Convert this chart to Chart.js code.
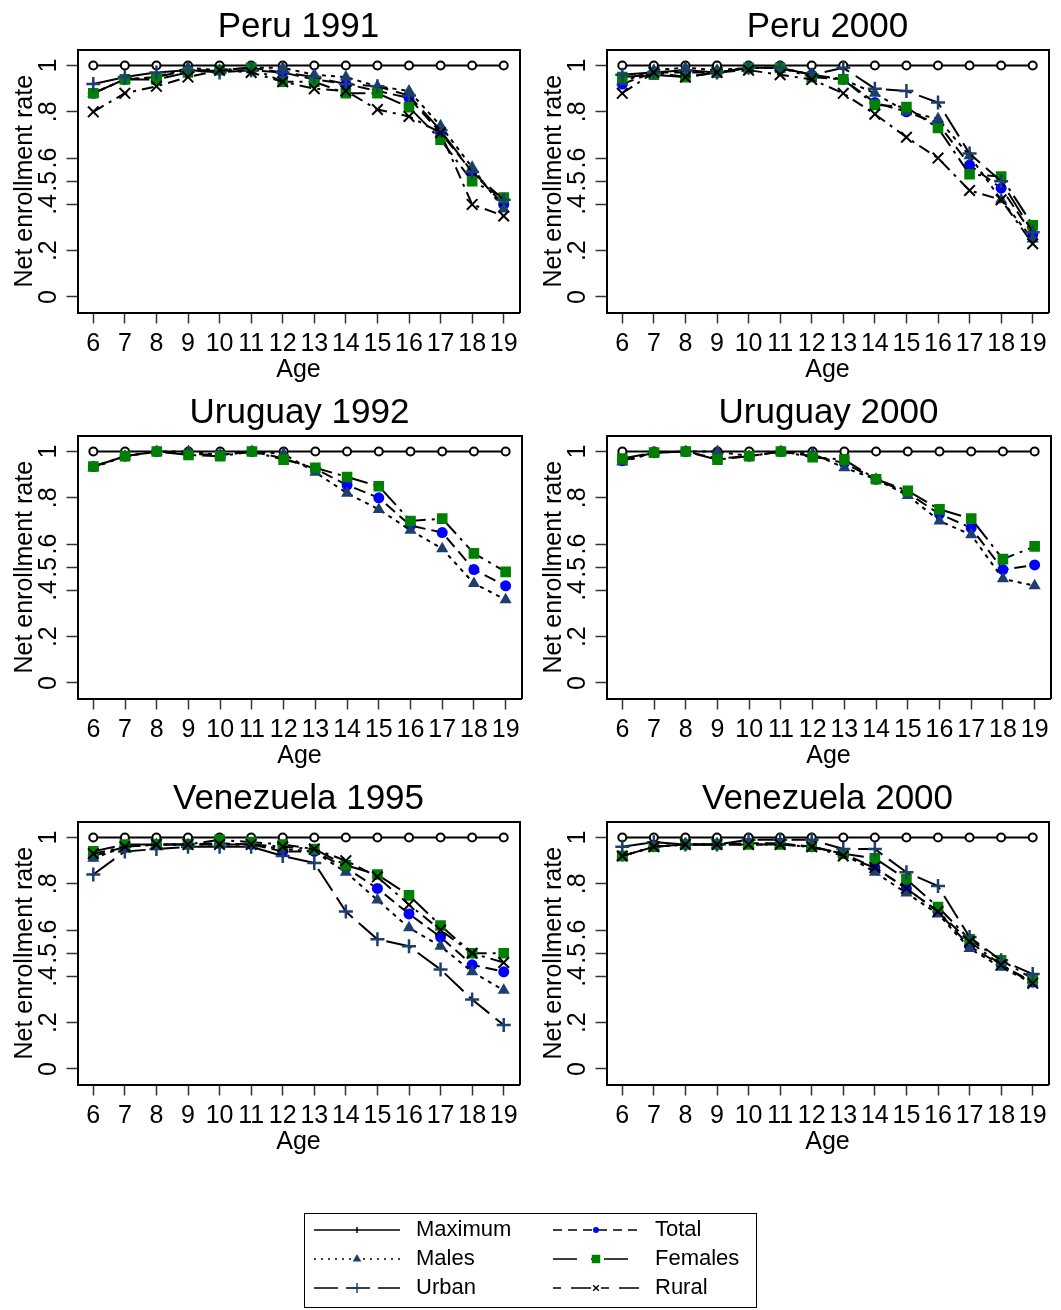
<!DOCTYPE html>
<html>
<head>
<meta charset="utf-8">
<script src="https://cdn.jsdelivr.net/npm/chart.js@4.4.1/dist/chart.umd.min.js"></script>
<style>
  body { margin: 0; background: #fff; }
  #page { position: relative; width: 1061px; height: 1310px; }
  canvas { position: absolute; }
  #legendBox { position: absolute; left: 304px; top: 1213px; width: 451px; height: 93px; border: 1.5px solid #000; }
</style>
</head>
<body>
<div id="page">
  <canvas id="p0" width="529" height="386" style="left:0;top:0"></canvas>
  <canvas id="p1" width="529" height="386" style="left:529px;top:0"></canvas>
  <canvas id="p2" width="529" height="386" style="left:0;top:386px"></canvas>
  <canvas id="p3" width="529" height="386" style="left:529px;top:386px"></canvas>
  <canvas id="p4" width="529" height="386" style="left:0;top:772px"></canvas>
  <canvas id="p5" width="529" height="386" style="left:529px;top:772px"></canvas>
  <div id="legendBox"></div>
  <canvas id="leg0" width="240" height="100" style="left:306px;top:1212px"></canvas>
  <canvas id="leg1" width="240" height="100" style="left:545px;top:1212px"></canvas>
</div>
<script>
Chart.defaults.font.family = "'Liberation Sans', Arial, sans-serif";
Chart.defaults.color = '#000';

// ---- data ----
const ages = ['6', '7', '8', '9', '10', '11', '12', '13', '14', '15', '16', '17', '18', '19'];
const yTickValues = [0, 0.2, 0.4, 0.5, 0.6, 0.8, 1];
const yTickLabels = ['0', '.2', '.4', '.5', '.6', '.8', '1'];
const maximum = [1, 1, 1, 1, 1, 1, 1, 1, 1, 1, 1, 1, 1, 1];

const peru1991Males   = [0.88, 0.94, 0.95, 0.99, 0.98, 0.99, 0.99, 0.96, 0.95, 0.91, 0.89, 0.74, 0.56, 0.38];
const peru1991Urban   = [0.92, 0.95, 0.97, 0.98, 0.97, 0.98, 0.97, 0.95, 0.92, 0.91, 0.87, 0.72, 0.54, 0.42];
const peru1991Total   = [0.88, 0.94, 0.95, 0.98, 0.98, 0.99, 0.97, 0.94, 0.92, 0.89, 0.86, 0.71, 0.54, 0.40];
const peru1991Females = [0.88, 0.94, 0.94, 0.97, 0.98, 0.99, 0.93, 0.93, 0.88, 0.88, 0.82, 0.68, 0.50, 0.43];
const peru1991Rural   = [0.80, 0.88, 0.91, 0.95, 0.98, 0.97, 0.93, 0.90, 0.89, 0.81, 0.78, 0.71, 0.40, 0.35];

const peru2000Males   = [0.93, 0.98, 0.99, 0.98, 0.99, 0.99, 0.96, 0.94, 0.88, 0.80, 0.77, 0.61, 0.42, 0.25];
const peru2000Urban   = [0.96, 0.97, 0.98, 0.97, 0.99, 0.99, 0.96, 0.99, 0.90, 0.89, 0.84, 0.62, 0.50, 0.28];
const peru2000Total   = [0.92, 0.97, 0.97, 0.97, 0.99, 0.99, 0.96, 0.94, 0.84, 0.80, 0.75, 0.57, 0.47, 0.27];
const peru2000Females = [0.95, 0.96, 0.95, 0.97, 0.99, 0.99, 0.95, 0.94, 0.83, 0.82, 0.73, 0.53, 0.52, 0.31];
const peru2000Rural   = [0.88, 0.97, 0.95, 0.97, 0.98, 0.96, 0.94, 0.88, 0.79, 0.69, 0.60, 0.46, 0.42, 0.23];

const uruguay1992Males   = [0.93, 0.98, 1.00, 1.00, 0.985, 1.00, 0.99, 0.91, 0.82, 0.75, 0.66, 0.58, 0.43, 0.36];
const uruguay1992Total   = [0.935, 0.98, 1.00, 0.99, 0.985, 1.00, 0.97, 0.925, 0.855, 0.80, 0.68, 0.65, 0.49, 0.42];
const uruguay1992Females = [0.935, 0.98, 1.00, 0.985, 0.98, 1.00, 0.965, 0.93, 0.89, 0.85, 0.70, 0.71, 0.56, 0.48];

const uruguay2000Males   = [0.955, 0.995, 1.00, 1.00, 0.98, 1.00, 0.99, 0.93, 0.88, 0.81, 0.70, 0.64, 0.45, 0.42];
const uruguay2000Total   = [0.96, 0.995, 1.00, 0.97, 0.98, 1.00, 0.98, 0.95, 0.88, 0.82, 0.73, 0.67, 0.49, 0.51];
const uruguay2000Females = [0.97, 0.995, 1.00, 0.965, 0.98, 1.00, 0.975, 0.965, 0.88, 0.83, 0.75, 0.71, 0.535, 0.59];

const venezuela1995Males   = [0.91, 0.96, 0.97, 0.97, 0.97, 0.97, 0.95, 0.94, 0.85, 0.73, 0.61, 0.53, 0.42, 0.34];
const venezuela1995Urban   = [0.84, 0.94, 0.95, 0.96, 0.96, 0.96, 0.92, 0.89, 0.68, 0.56, 0.53, 0.43, 0.30, 0.19];
const venezuela1995Total   = [0.92, 0.96, 0.97, 0.97, 0.975, 0.97, 0.94, 0.94, 0.87, 0.78, 0.67, 0.57, 0.45, 0.42];
const venezuela1995Females = [0.94, 0.97, 0.97, 0.97, 0.99, 0.98, 0.97, 0.95, 0.88, 0.84, 0.75, 0.62, 0.50, 0.50];
const venezuela1995Rural   = [0.93, 0.96, 0.97, 0.97, 0.97, 0.97, 0.96, 0.95, 0.90, 0.83, 0.71, 0.60, 0.50, 0.46];

const venezuela2000Males   = [0.92, 0.96, 0.97, 0.97, 0.97, 0.97, 0.96, 0.93, 0.85, 0.76, 0.67, 0.52, 0.44, 0.37];
const venezuela2000Urban   = [0.96, 0.98, 0.97, 0.97, 0.99, 0.99, 0.99, 0.95, 0.95, 0.85, 0.79, 0.57, 0.47, 0.41];
const venezuela2000Total   = [0.92, 0.96, 0.97, 0.97, 0.975, 0.975, 0.96, 0.93, 0.87, 0.78, 0.68, 0.53, 0.45, 0.375];
const venezuela2000Females = [0.92, 0.96, 0.97, 0.97, 0.97, 0.97, 0.96, 0.93, 0.91, 0.82, 0.70, 0.56, 0.47, 0.39];
const venezuela2000Rural   = [0.92, 0.96, 0.97, 0.97, 0.97, 0.97, 0.96, 0.92, 0.87, 0.78, 0.68, 0.55, 0.45, 0.37];

const panels = [
  { title: 'Peru 1991', Maximum: maximum, Total: peru1991Total, Males: peru1991Males, Females: peru1991Females, Urban: peru1991Urban, Rural: peru1991Rural },
  { title: 'Peru 2000', Maximum: maximum, Total: peru2000Total, Males: peru2000Males, Females: peru2000Females, Urban: peru2000Urban, Rural: peru2000Rural },
  { title: 'Uruguay 1992', Maximum: maximum, Total: uruguay1992Total, Males: uruguay1992Males, Females: uruguay1992Females },
  { title: 'Uruguay 2000', Maximum: maximum, Total: uruguay2000Total, Males: uruguay2000Males, Females: uruguay2000Females },
  { title: 'Venezuela 1995', Maximum: maximum, Total: venezuela1995Total, Males: venezuela1995Males, Females: venezuela1995Females, Urban: venezuela1995Urban, Rural: venezuela1995Rural },
  { title: 'Venezuela 2000', Maximum: maximum, Total: venezuela2000Total, Males: venezuela2000Males, Females: venezuela2000Females, Urban: venezuela2000Urban, Rural: venezuela2000Rural }
];

// ---- styles ----
const navy = '#1c3f6e';
const seriesNames = ['Maximum', 'Total', 'Males', 'Females', 'Urban', 'Rural'];
const seriesStyles = {
  Maximum: { pointStyle: 'circle', radius: 4, fill: '#fff', stroke: '#000', pbw: 2, dash: [], order: 6,
             legStyle: 'line', legRadius: 3, legRot: 90, legDash: [] },
  Total:   { pointStyle: 'circle', radius: 5.5, fill: '#0000ff', stroke: '#0000ff', pbw: 0, dash: [12, 6], order: 5,
             legStyle: 'circle', legRadius: 3, legRot: 0, legDash: [9, 6] },
  Males:   { pointStyle: 'triangle', radius: 7, fill: navy, stroke: navy, pbw: 0, dash: [4, 5], order: 4,
             legStyle: 'triangle', legRadius: 5, legRot: 0, legDash: [2, 5] },
  Females: { pointStyle: 'rect', radius: 7.5, fill: '#008000', stroke: '#008000', pbw: 0, dash: [22, 6, 3, 6], order: 3,
             legStyle: 'rect', legRadius: 6, legRot: 0, legDash: [24, 14, 3, 10] },
  Urban:   { pointStyle: 'cross', radius: 7, fill: navy, stroke: navy, pbw: 2.5, dash: [26, 8], order: 2,
             legStyle: 'cross', legRadius: 5, legRot: 0, legDash: [24, 8] },
  Rural:   { pointStyle: 'crossRot', radius: 7.5, fill: '#000', stroke: '#000', pbw: 2, dash: [12, 6, 3, 6], order: 1,
             legStyle: 'crossRot', legRadius: 4, legRot: 0, legDash: [8, 10, 20, 10] }
};

const tickFont = { size: 25 };

function makePanel(canvasId, panel) {
  const datasets = seriesNames.filter(name => panel[name]).map(name => {
    const st = seriesStyles[name];
    return {
      label: name,
      data: panel[name],
      borderColor: '#000',
      borderWidth: 2,
      borderDash: st.dash,
      fill: false,
      tension: 0,
      pointStyle: st.pointStyle,
      pointRadius: st.radius,
      pointHoverRadius: st.radius,
      pointBackgroundColor: st.fill,
      pointBorderColor: st.stroke,
      pointBorderWidth: st.pbw,
      order: st.order
    };
  });

  new Chart(document.getElementById(canvasId), {
    type: 'line',
    data: { labels: ages, datasets },
    options: {
      responsive: false,
      animation: false,
      devicePixelRatio: 1,
      events: [],
      layout: { padding: { left: 0, right: 1, top: 0, bottom: 0 } },
      plugins: {
        legend: { display: false },
        tooltip: { enabled: false },
        title: {
          display: true, text: panel.title, fullSize: false, color: '#000',
          font: { size: 35, weight: 'normal' }, padding: { top: 6, bottom: 2 }
        }
      },
      scales: {
        x: {
          type: 'category', position: 'bottom', offset: true,
          grid: { drawOnChartArea: false, offset: false, tickLength: 11, tickWidth: 1.5, tickColor: '#333' },
          border: { color: '#000', width: 2 },
          ticks: { autoSkip: false, minRotation: 0, maxRotation: 0, padding: 6, color: '#000', font: tickFont },
          title: { display: true, text: 'Age', color: '#000', font: tickFont, padding: { top: 0, bottom: 1 } },
          afterFit: s => { s.height = 73.5; }
        },
        y: {
          type: 'linear', position: 'left', min: -0.067, max: 1.067,
          afterBuildTicks: s => { s.ticks = yTickValues.map(v => ({ value: v })); },
          grid: { drawOnChartArea: false, tickLength: 11, tickWidth: 1.5, tickColor: '#333' },
          border: { color: '#000', width: 2 },
          ticks: {
            autoSkip: false, minRotation: 90, maxRotation: 90, crossAlign: 'center', padding: 7,
            color: '#000', font: tickFont, callback: (v, i) => yTickLabels[i]
          },
          title: { display: true, text: 'Net enrollment rate', color: '#000', font: tickFont, padding: { top: 10, bottom: 0 } },
          afterFit: s => { s.width = 77.5; }
        },
        x2: {
          type: 'category', position: 'top', offset: true,
          grid: { drawOnChartArea: false, drawTicks: false },
          border: { color: '#000', width: 2 },
          ticks: { display: false }
        },
        y2: {
          type: 'linear', position: 'right', min: -0.067, max: 1.067,
          grid: { drawOnChartArea: false, drawTicks: false },
          border: { color: '#000', width: 2 },
          ticks: { display: false }
        }
      }
    }
  });
}

panels.forEach((p, i) => makePanel('p' + i, p));

// ---- legend ----
const legendColumns = [['Maximum', 'Males', 'Urban'], ['Total', 'Females', 'Rural']];

function legendSample(name) {
  const st = seriesStyles[name];
  const cv = document.createElement('canvas');
  cv.width = 92; cv.height = 22;
  const ctx = cv.getContext('2d');
  ctx.strokeStyle = '#000';
  ctx.lineWidth = 1.5;
  ctx.setLineDash(st.legDash);
  ctx.beginPath(); ctx.moveTo(1, 11); ctx.lineTo(87, 11); ctx.stroke();
  ctx.setLineDash([]);
  ctx.fillStyle = st.fill === '#fff' ? '#000' : st.fill;
  ctx.strokeStyle = st.stroke;
  ctx.lineWidth = 1.5;
  Chart.helpers.drawPoint(ctx, {
    pointStyle: st.legStyle, radius: st.legRadius, rotation: st.legRot,
    borderWidth: (st.legStyle === 'cross' || st.legStyle === 'crossRot' || st.legStyle === 'line') ? 1.5 : 0
  }, 44, 11);
  return cv;
}

legendColumns.forEach((names, c) => {
  const samples = names.map(legendSample);
  new Chart(document.getElementById('leg' + c), {
    type: 'line',
    data: { labels: [], datasets: names.map(n => ({ label: n, data: [] })) },
    options: {
      responsive: false,
      animation: false,
      devicePixelRatio: 1,
      events: [],
      layout: { padding: 0 },
      scales: { x: { display: false }, y: { display: false } },
      plugins: {
        tooltip: { enabled: false },
        legend: {
          position: 'left', align: 'start', maxWidth: 240,
          labels: {
            usePointStyle: true, pointStyleWidth: 92, padding: 7,
            color: '#000', font: { size: 22 },
            generateLabels: chart => chart.data.datasets.map((ds, i) => ({
              text: ds.label, pointStyle: samples[i], fillStyle: 'rgba(0,0,0,0)',
              strokeStyle: 'rgba(0,0,0,0)', lineWidth: 0, fontColor: '#000',
              hidden: false, datasetIndex: i
            }))
          }
        }
      }
    }
  });
});
</script>
</body>
</html>
